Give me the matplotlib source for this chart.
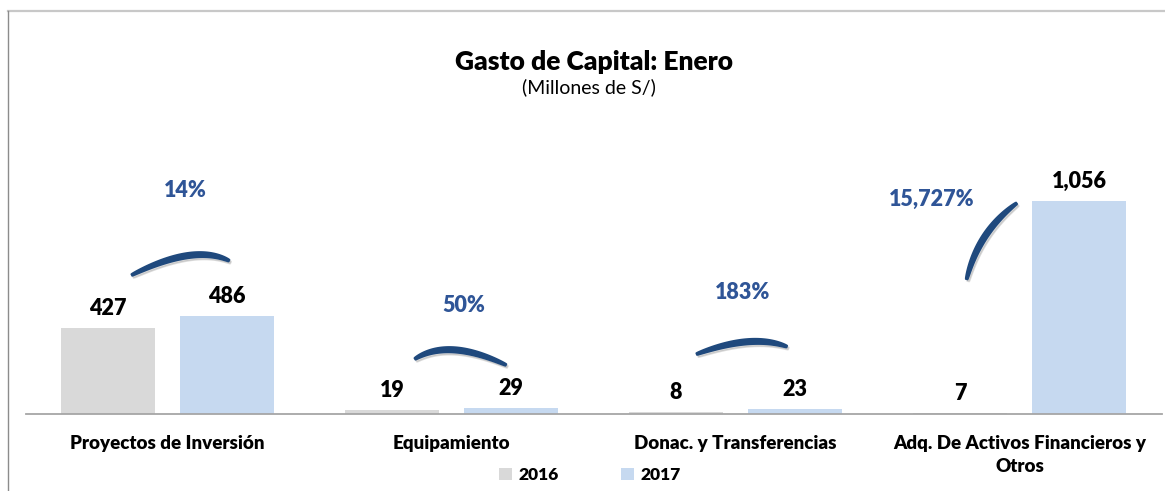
import numpy as np
import matplotlib
matplotlib.use("Agg")
import matplotlib.pyplot as plt
from matplotlib.patches import Polygon
from matplotlib.lines import Line2D
from matplotlib.patches import Patch

# ---------------- data ----------------
categories = ["Proyectos de Inversión", "Equipamiento", "Donac. y Transferencias",
              "Adq. De Activos Financieros y\nOtros"]
series_names = ["2016", "2017"]
values_2016 = [427, 19, 8, 7]
values_2017 = [486, 29, 23, 1056]
value_labels_2016 = ["427", "19", "8", "7"]
value_labels_2017 = ["486", "29", "23", "1,056"]
pct_labels = ["14%", "50%", "183%", "15,727%"]

title = "Gasto de Capital: Enero"
subtitle = "(Millones de S/)"

# annotation layout (offset from category centre, height in data units)
pct_pos = [(0.062, 1106), (0.044, 540), (0.026, 600), (-0.308, 1062)]
arc_pts = [
    [(-0.126, 689), (0.070, 785), (0.217, 760)],
    [(-0.129, 273), (0.010, 318), (0.192, 243)],
    [(-0.137, 297), (0.040, 358), (0.181, 334)],
    [(-0.186, 668), (-0.122, 880), (-0.010, 1045)],
]

# ---------------- style ----------------
FONT = ["Lato", "DejaVu Sans"]
plt.rcParams["font.family"] = FONT
BOLD = "heavy"
c2016 = "#D9D9D9"
c2017 = "#C6D9F0"
c_pct = "#2F5597"
c_arc = "#1F497D"

W, H = 1165, 491
fig = plt.figure(figsize=(W / 100, H / 100), dpi=100)

# axes placed in pixel terms
ax_left, ax_right = 25.5, 1161.5
ax_bottom_px, ax_top_px = 414, 150
ax = fig.add_axes([ax_left / W, (H - ax_bottom_px) / H,
                   (ax_right - ax_left) / W, (ax_bottom_px - ax_top_px) / H])
px_per_unit = 213 / 1056
ax.set_xlim(-0.5, 3.5)
ax.set_ylim(0, (ax_bottom_px - ax_top_px) / px_per_unit)

x = np.arange(len(categories))
bw = 0.331
off = 0.2095
ax.bar(x - off, values_2016, bw, color=c2016, zorder=2)
ax.bar(x + off, values_2017, bw, color=c2017, zorder=2)

for s in ["top", "right", "left"]:
    ax.spines[s].set_visible(False)
ax.spines["bottom"].set_color("#A6A6A6")
ax.spines["bottom"].set_linewidth(1.3)
ax.set_yticks([])
ax.set_xticks([])

val_fs = 15.5
for i in range(len(categories)):
    ax.annotate(value_labels_2016[i], (x[i] - off, values_2016[i]), xytext=(0, 14.0),
                textcoords="offset points", ha="center", va="center",
                fontsize=val_fs, fontweight=BOLD, color="black")
    ax.annotate(value_labels_2017[i], (x[i] + off, values_2017[i]), xytext=(0, 14.0),
                textcoords="offset points", ha="center", va="center",
                fontsize=val_fs, fontweight=BOLD, color="black")
    ax.text(x[i] + pct_pos[i][0], pct_pos[i][1], pct_labels[i], ha="center", va="center",
            fontsize=val_fs, fontweight=BOLD, color=c_pct)
    ax.annotate(categories[i], (x[i], 0), xytext=(0, -15.0), textcoords="offset points",
                ha="center", va="top", fontsize=13.5, fontweight=BOLD, color="black",
                linespacing=1.45, annotation_clip=False)


def brush(ax, pts3, wmax, color, dx=0.0, dy=0.0, alpha=1.0):
    P0, Pm, P2 = (np.array(p, dtype=float) for p in pts3)
    C = 2 * Pm - 0.5 * (P0 + P2)
    t = np.linspace(0, 1, 120)[:, None]
    pts = (1 - t) ** 2 * P0 + 2 * (1 - t) * t * C + t ** 2 * P2
    disp = ax.transData.transform(pts)
    disp = disp + np.array([dx, dy])
    d = np.gradient(disp, axis=0)
    n = np.stack([-d[:, 1], d[:, 0]], 1)
    n /= np.linalg.norm(n, axis=1)[:, None]
    tt = t[:, 0]
    w = wmax * (0.35 + 0.65 * np.sin(np.pi * tt) ** 0.6) / 2
    upper = disp + n * w[:, None]
    lower = disp - n * w[:, None]
    poly = np.vstack([upper, lower[::-1]])
    polyd = ax.transData.inverted().transform(poly)
    ax.add_patch(Polygon(polyd, closed=True, fc=color, ec=color, lw=1.2,
                         joinstyle="round", alpha=alpha, zorder=3, clip_on=False))


for i, pts in enumerate(arc_pts):
    abs_pts = [(x[i] + p[0], p[1]) for p in pts]
    brush(ax, abs_pts, 6.0, "#9A9A9A", dx=1.5, dy=-2.0, alpha=0.35)
    brush(ax, abs_pts, 5.5, c_arc)

# title and subtitle
fig.text(594 / W, 1 - 62 / H, title, ha="center", va="center", fontsize=19,
         fontweight=BOLD, color="black")
fig.text(589 / W, 1 - 87 / H, subtitle, ha="center", va="center", fontsize=14,
         color="black")

# legend
handles = [Patch(facecolor=c2016, edgecolor="none"), Patch(facecolor=c2017, edgecolor="none")]
leg = fig.legend(handles, series_names, loc="center", bbox_to_anchor=(590 / W, 1 - 475 / H),
                 ncol=2, frameon=False, handlelength=0.75, handleheight=0.75,
                 handletextpad=0.35, columnspacing=3.6,
                 prop={"weight": BOLD, "size": 12.5, "family": FONT})

# chart border lines (top light, left darker)
fig.add_artist(Line2D([8 / W, 1], [1 - 10.8 / H, 1 - 10.8 / H], color="#C8C8C8", lw=1.6,
                      transform=fig.transFigure))
fig.add_artist(Line2D([8.2 / W, 8.2 / W], [0, 1 - 10.8 / H], color="#8C8C8C", lw=1.0,
                      transform=fig.transFigure))

fig.savefig("out.png", dpi=100)
